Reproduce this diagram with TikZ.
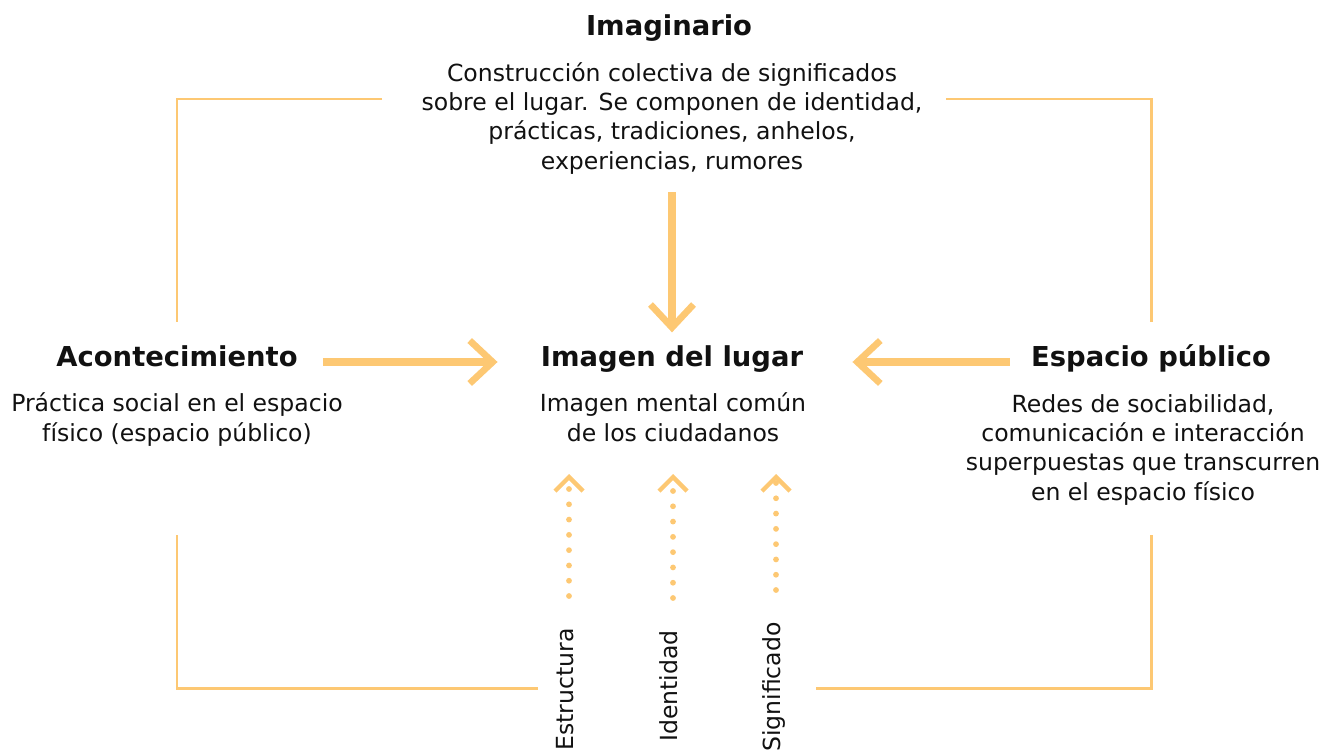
\documentclass[tikz,border=0pt]{standalone}
\usepackage{fontspec}
\setmainfont{DejaVu Sans}
\usepackage{tikz}
\usetikzlibrary{arrows.meta}
\definecolor{linea}{RGB}{253,200,115}
\definecolor{tinta}{RGB}{17,17,17}

\begin{document}
\begin{tikzpicture}[x=0.02cm, y=-0.02cm,
		titulo/.style={font=\fontsize{15.6}{19}\selectfont\bfseries, text=tinta, inner sep=0pt, text height=0.75em, text depth=0.25em},
		texto/.style={font=\fontsize{13.4}{16.6}\selectfont, text=tinta, align=center, inner sep=0pt, anchor=base},
		etiqueta/.style={font=\fontsize{13.4}{15}\selectfont, text=tinta, inner sep=0pt, rotate=90, anchor=east, text height=0.75em, text depth=0.25em},
		marco/.style={draw=linea, line width=1.7pt},
		flecha/.style={draw=linea, line width=4.5pt, -{Straight Barb[length=0.46cm, width=0.86cm, line width=3.8pt]}},
		puntos/.style={draw=linea, line width=3.3pt, line cap=round, dash pattern=on 0pt off 8.7pt, -{Straight Barb[length=0.28cm, width=0.56cm, line width=2.5pt]}}]
	\useasboundingbox (0,0) rectangle (1331,750);
	\node at (669,31) [titulo] (imag) {Imaginario};
	\node at (672,169) [texto] (imagtxt) {Construcción colectiva de significados\\sobre el lugar. Se componen de identidad,\\prácticas, tradiciones, anhelos,\\experiencias, rumores};
	\node at (672,362) [titulo] (lugar) {Imagen del lugar};
	\node at (673,441) [texto] (lugartxt) {Imagen mental común\\de los ciudadanos};
	\node at (177,362) [titulo] (acon) {Acontecimiento};
	\node at (177,441) [texto] (acontxt) {Práctica social en el espacio\\físico (espacio público)};
	\node at (1151,362) [titulo] (esp) {Espacio público};
	\node at (1143,500) [texto] (esptxt) {Redes de sociabilidad,\\comunicación e interacción\\superpuestas que transcurren\\en el espacio físico};
	\node at (569,628) [etiqueta] (estr) {Estructura};
	\node at (673,630) [etiqueta] (iden) {Identidad};
	\node at (776,622) [etiqueta] (sign) {Significado};
	\coordinate (p1) at (569,474);
	\coordinate (p2) at (673,474);
	\coordinate (p3) at (776,474);
	\coordinate (m1) at (382,99);
	\coordinate (m2) at (177,322);
	\coordinate (m3) at (946,99);
	\coordinate (m4) at (1151,322);
	\coordinate (m5) at (177,535);
	\coordinate (m6) at (538,688);
	\coordinate (m7) at (1151,535);
	\coordinate (m8) at (816,688);
	\draw [marco] (m1) -| (m2);
	\draw [marco] (m3) -| (m4);
	\draw [marco] (m5) |- (m6);
	\draw [marco] (m7) |- (m8);
	\draw [flecha, shorten <=0.36cm, shorten >=0.41cm] (imagtxt.south) -- (imagtxt.south |- lugar.north);
	\draw [flecha, shorten <=0.5cm, shorten >=0.86cm] (acon) -- (lugar);
	\draw [flecha, shorten <=0.42cm, shorten >=0.98cm] (esp) -- (lugar);
	\draw [puntos, shorten <=0.64cm] (estr.east) -- (p1);
	\draw [puntos, shorten <=0.64cm] (iden.east) -- (p2);
	\draw [puntos, shorten <=0.64cm] (sign.east) -- (p3);
\end{tikzpicture}
\end{document}
